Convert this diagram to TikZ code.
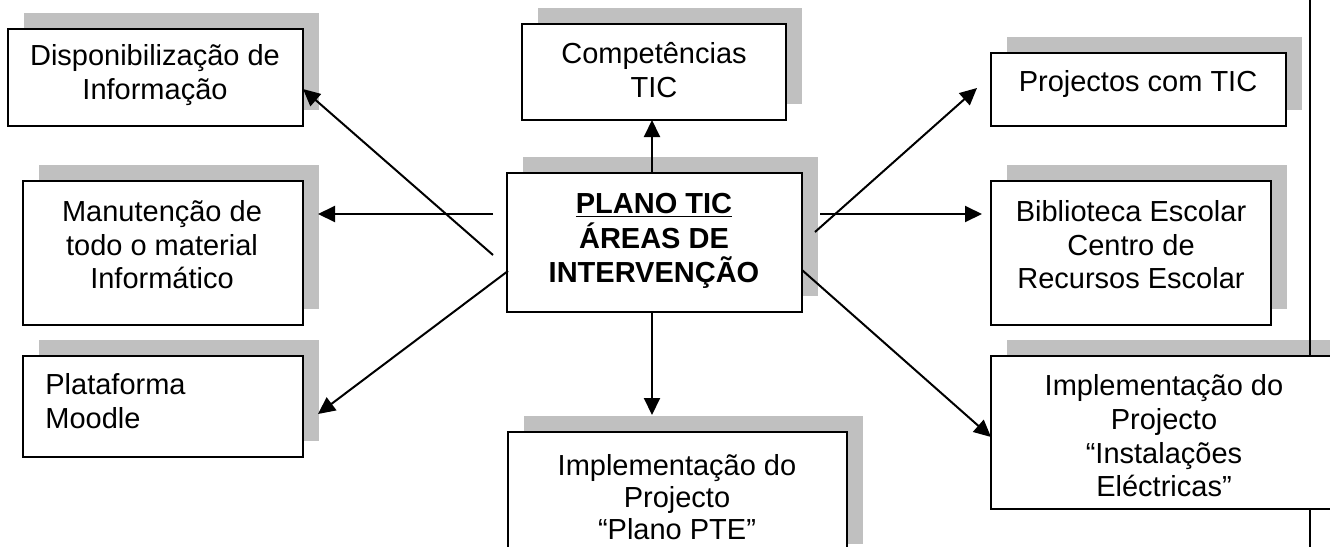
\documentclass[tikz,border=0pt]{standalone}
\usepackage{fontspec}
\setmainfont{Liberation Sans}
\usetikzlibrary{arrows.meta,fit,calc}
\pgfdeclarelayer{bg}
\pgfdeclarelayer{mid}
\pgfsetlayers{bg,mid,main}
\definecolor{shadowgray}{RGB}{192,192,192}
\begin{document}
\begin{tikzpicture}[x=0.5pt,y=-0.5pt,
  box/.style={draw=black, line width=1pt, fill=white, inner sep=0pt, outer sep=0pt},
  txt/.style={inner sep=0pt, align=center, font=\fontsize{14.5}{16.8}\selectfont},
  arr/.style={line width=1pt, -{Triangle[length=8.5pt,width=8pt]}},
  frameline/.style={line width=1pt}]
\useasboundingbox (0,0) rectangle (1330,547);
\clip (0,0) rectangle (1330,547);

% boxes
\node[box, fit={(8,29) (303,126)}] (b1) {};
\node[box, fit={(23,181) (303,325)}] (b2) {};
\node[box, fit={(23,356) (303,457)}] (b3) {};
\node[box, fit={(522,24) (786,120)}] (b4) {};
\node[box, fit={(507,173) (802,312)}] (b5) {};
\node[box, fit={(991,53) (1286,126)}] (b6) {};
\node[box, fit={(991,181) (1271,325)}] (b7) {};
\node[box, fit={(508,432) (847,560)}] (b8) {};
\node[box, fit={(991,356) (1345,509)}] (b9) {};

% shadows
\begin{pgfonlayer}{bg}
\foreach \n in {b1,b2,b3,b4,b5,b6,b7,b8,b9}
  \fill[shadowgray] ($(\n.south west)+(16,-16)$) rectangle ($(\n.north east)+(16,-16)$);
\end{pgfonlayer}

% right frame line
\coordinate (ftop) at (1310,0);
\coordinate (fbot) at (1310,547);
\begin{pgfonlayer}{mid}
\draw[frameline] (ftop) -- (fbot);
\end{pgfonlayer}

% texts
\node[txt] (t1) at (155,75) {Disponibilização de\\Informação};
\node[txt] (t2) at (162,245) {Manutenção de\\todo o material\\Informático};
\node[txt, align=left, anchor=north west] (t3) at (45,373) {Plataforma\\Moodle};
\node[txt] (t4) at (654,70) {Competências\\TIC};
\node[txt, font=\fontsize{14.5}{17.4}\selectfont\bfseries] (t5) at (654,241) {\underline{PLANO TIC}\\ÁREAS DE\\INTERVENÇÃO};
\node[txt] (t6) at (1138,84) {Projectos com TIC};
\node[txt] (t7) at (1131,245) {Biblioteca Escolar\\Centro de\\Recursos Escolar};
\node[txt, font=\fontsize{14.5}{16}\selectfont] (t8) at (677,497) {Implementação do\\Projecto\\“Plano PTE”};
\node[txt] (t9) at (1164,436) {Implementação do\\Projecto\\“Instalações\\Eléctricas”};

% connector ends
\coordinate (s1) at (493,255);
\coordinate (e1) at (303,89);
\coordinate (s2) at (493,214);
\coordinate (e2) at (318,214);
\coordinate (s3) at (508,271);
\coordinate (e3) at (318,414);
\coordinate (s4) at (652,173);
\coordinate (e4) at (652,120);
\coordinate (s5) at (652,312);
\coordinate (e5) at (652,415);
\coordinate (s6) at (815,232);
\coordinate (e6) at (977,88);
\coordinate (s7) at (820,214);
\coordinate (e7) at (982,214);
\coordinate (s8) at (802,270);
\coordinate (e8) at (991,437);

\draw[arr] (s1) -- (e1);
\draw[arr] (s2) -- (e2);
\draw[arr] (s3) -- (e3);
\draw[arr] (s4) -- (e4);
\draw[arr] (s5) -- (e5);
\draw[arr] (s6) -- (e6);
\draw[arr] (s7) -- (e7);
\draw[arr] (s8) -- (e8);
\end{tikzpicture}
\end{document}
